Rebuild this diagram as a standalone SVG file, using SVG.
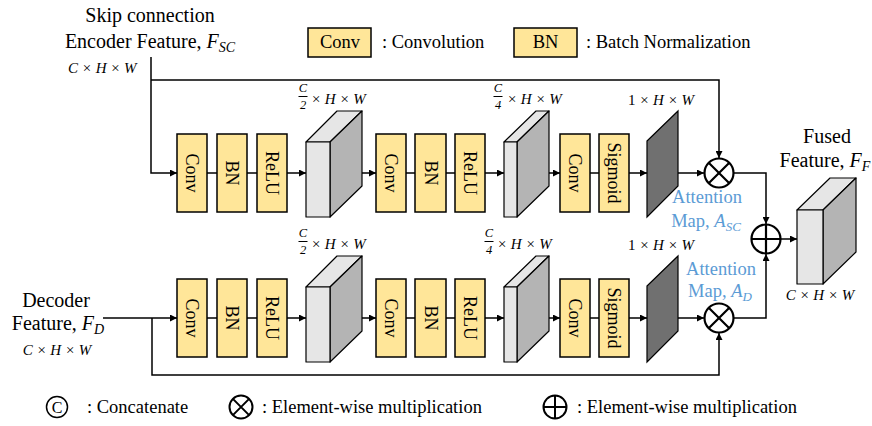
<svg xmlns="http://www.w3.org/2000/svg" width="872" height="426" viewBox="0 0 872 426">
  <style>
    .t { font-family: "Liberation Serif", "Tinos", "Times New Roman", "DejaVu Serif", serif; fill: #000; }
    .title { font-size: 20px; }
    .lbl { font-size: 18.5px; }
    .blue { fill: #5B9BD5; }
    .math { font-family: "Liberation Serif", "Tinos", "Times New Roman", "DejaVu Serif", serif; font-style: italic; font-size: 15px; fill: #000; }
    .frac { font-size: 12.5px; text-anchor: middle; }
    .it { font-style: italic; }
    .box { fill: #FFE699; stroke: #000; stroke-width: 1.5; }
    .boxt { font-family: "Liberation Serif", "Tinos", "Times New Roman", "DejaVu Serif", serif; font-size: 18px; text-anchor: middle; }
    .front { fill: #E6E6E6; stroke: #000; stroke-width: 1.2; stroke-linejoin: round; }
    .side { fill: #B4B4B4; stroke: #000; stroke-width: 1.2; stroke-linejoin: round; }
    .map { fill: #707070; stroke: #000; stroke-width: 1.2; }
    .wire { fill: none; stroke: #000; stroke-width: 1.5; }
    .arr { fill: none; stroke: #000; stroke-width: 1.5; marker-end: url(#ah); }
    .op { fill: #fff; stroke: #000; stroke-width: 2.2; }
    .opl { stroke: #000; stroke-width: 2.2; }
  </style>
  <defs>
    <marker id="ah" viewBox="0 0 10 10" refX="10" refY="5" markerWidth="7" markerHeight="7" markerUnits="userSpaceOnUse" orient="auto">
      <path d="M0,0 L10,5 L0,10 z" fill="#000"/>
    </marker>
    <g id="cube1">
      <polygon class="front" points="306,142 337,111 362,111 330,142"/>
      <polygon class="side" points="330,142 362,111 362,186 330,217"/>
      <rect class="front" x="306" y="142" width="24" height="75"/>
    </g>
    <g id="cube2">
      <polygon class="front" points="504,142 536,111 549,111 517,142"/>
      <polygon class="side" points="517,142 549,111 549,186 517,217"/>
      <rect class="front" x="504" y="142" width="13" height="75"/>
    </g>
  </defs>

  <rect width="872" height="426" fill="#fff"/>

  <!-- legend, top -->
  <g id="legend-top">
    <rect class="box" x="308" y="28" width="63" height="29"/>
    <text class="t lbl" x="340" y="48" text-anchor="middle">Conv</text>
    <text class="t lbl" x="382" y="48">: Convolution</text>
    <rect class="box" x="514" y="28" width="63" height="29"/>
    <text class="t lbl" x="545.5" y="48" text-anchor="middle">BN</text>
    <text class="t lbl" x="586" y="48">: Batch Normalization</text>
  </g>

  <!-- input labels -->
  <g id="enc-label">
    <text class="t title" x="150" y="22" text-anchor="middle">Skip connection</text>
    <text class="t title" x="150" y="48" text-anchor="middle">Encoder Feature, <tspan class="it">F</tspan><tspan class="it" font-size="14" dy="4">SC</tspan></text>
    <text class="math" x="68" y="73">C × H × W</text>
  </g>
  <g id="dec-label">
    <text class="t title" x="56" y="307" text-anchor="middle">Decoder</text>
    <text class="t title" x="58" y="330" text-anchor="middle">Feature, <tspan class="it">F</tspan><tspan class="it" font-size="14" dy="4">D</tspan></text>
    <text class="math" x="57" y="355" text-anchor="middle">C × H × W</text>
  </g>

  <!-- connectors -->
  <g id="connectors">
    <!-- encoder branch -->
    <path class="arr" d="M151,57 V173 H177"/>
    <path class="arr" d="M151,80 H719 V158"/>
    <path class="wire" d="M207,173 H217 M247,173 H257"/>
    <path class="arr" d="M287,173 H306"/>
    <path class="arr" d="M347,173 H376"/>
    <path class="wire" d="M406,173 H415 M446,173 H455"/>
    <path class="arr" d="M485,173 H504"/>
    <path class="arr" d="M537,173 H560"/>
    <path class="wire" d="M590,173 H599"/>
    <path class="arr" d="M629,173 H647"/>
    <path class="arr" d="M665,173 H704"/>
    <path class="arr" d="M734,173 H766 V224"/>
    <!-- decoder branch -->
    <path class="arr" d="M103,318 H177"/>
    <path class="arr" d="M152,318 V375 H719 V333"/>
    <path class="wire" d="M207,318 H217 M247,318 H257"/>
    <path class="arr" d="M287,318 H306"/>
    <path class="arr" d="M347,318 H376"/>
    <path class="wire" d="M406,318 H415 M446,318 H455"/>
    <path class="arr" d="M485,318 H504"/>
    <path class="arr" d="M537,318 H560"/>
    <path class="wire" d="M590,318 H599"/>
    <path class="arr" d="M629,318 H647"/>
    <path class="arr" d="M665,318 H704"/>
    <path class="arr" d="M734,318 H766 V254"/>
    <!-- fusion output -->
    <path class="arr" d="M781,239 H797"/>
  </g>

  <!-- encoder branch nodes -->
  <g id="enc-conv1"><rect class="box" x="177" y="134" width="30" height="78"/><text class="boxt" transform="rotate(90 192 173)" x="192" y="179">Conv</text></g>
  <g id="enc-bn1"><rect class="box" x="217" y="134" width="30" height="78"/><text class="boxt" transform="rotate(90 232 173)" x="232" y="179">BN</text></g>
  <g id="enc-relu1"><rect class="box" x="257" y="134" width="30" height="78"/><text class="boxt" transform="rotate(90 272 173)" x="272" y="179">ReLU</text></g>
  <g id="enc-feat1">
    <use href="#cube1"/>
    <text class="math frac" x="303" y="92">C</text>
    <line x1="298.5" y1="96.5" x2="307.5" y2="96.5" stroke="#000" stroke-width="1"/>
    <text class="math frac" x="303" y="108.5" font-style="normal">2</text>
    <text class="math" x="311" y="104">× H × W</text>
  </g>
  <g id="enc-conv2"><rect class="box" x="376" y="134" width="30" height="78"/><text class="boxt" transform="rotate(90 391 173)" x="391" y="179">Conv</text></g>
  <g id="enc-bn2"><rect class="box" x="415" y="134" width="31" height="78"/><text class="boxt" transform="rotate(90 430.5 173)" x="430.5" y="179">BN</text></g>
  <g id="enc-relu2"><rect class="box" x="455" y="134" width="30" height="78"/><text class="boxt" transform="rotate(90 470 173)" x="470" y="179">ReLU</text></g>
  <g id="enc-feat2">
    <use href="#cube2"/>
    <text class="math frac" x="498" y="92">C</text>
    <line x1="493.5" y1="96.5" x2="502.5" y2="96.5" stroke="#000" stroke-width="1"/>
    <text class="math frac" x="498" y="108.5" font-style="normal">4</text>
    <text class="math" x="507" y="104">× H × W</text>
  </g>
  <g id="enc-conv3"><rect class="box" x="560" y="134" width="30" height="78"/><text class="boxt" transform="rotate(90 575 173)" x="575" y="179">Conv</text></g>
  <g id="enc-sigmoid"><rect class="box" x="599" y="134" width="30" height="78"/><text class="boxt" transform="rotate(90 614 173)" x="614" y="179">Sigmoid</text></g>
  <g id="enc-attn">
    <polygon class="map" points="647,141 678,111 678,186 647,217"/>
    <text class="math" x="628" y="105"><tspan font-style="normal">1</tspan> × H × W</text>
    <text class="t lbl blue" x="707" y="203" text-anchor="middle">Attention</text>
    <text class="t lbl blue" x="706" y="227" text-anchor="middle">Map, <tspan class="it">A</tspan><tspan class="it" font-size="13" dy="4">SC</tspan></text>
  </g>
  <g id="enc-mul">
    <circle class="op" cx="719" cy="173" r="14.5"/>
    <path class="opl" d="M708.7,162.7 L729.3,183.3 M729.3,162.7 L708.7,183.3"/>
  </g>

  <!-- decoder branch nodes -->
  <g id="dec-conv1"><rect class="box" x="177" y="279" width="30" height="78"/><text class="boxt" transform="rotate(90 192 318)" x="192" y="324">Conv</text></g>
  <g id="dec-bn1"><rect class="box" x="217" y="279" width="30" height="78"/><text class="boxt" transform="rotate(90 232 318)" x="232" y="324">BN</text></g>
  <g id="dec-relu1"><rect class="box" x="257" y="279" width="30" height="78"/><text class="boxt" transform="rotate(90 272 318)" x="272" y="324">ReLU</text></g>
  <g id="dec-feat1">
    <use href="#cube1" y="145"/>
    <text class="math frac" x="303" y="237">C</text>
    <line x1="298.5" y1="241.5" x2="307.5" y2="241.5" stroke="#000" stroke-width="1"/>
    <text class="math frac" x="303" y="253.5" font-style="normal">2</text>
    <text class="math" x="311" y="249">× H × W</text>
  </g>
  <g id="dec-conv2"><rect class="box" x="376" y="279" width="30" height="78"/><text class="boxt" transform="rotate(90 391 318)" x="391" y="324">Conv</text></g>
  <g id="dec-bn2"><rect class="box" x="415" y="279" width="31" height="78"/><text class="boxt" transform="rotate(90 430.5 318)" x="430.5" y="324">BN</text></g>
  <g id="dec-relu2"><rect class="box" x="455" y="279" width="30" height="78"/><text class="boxt" transform="rotate(90 470 318)" x="470" y="324">ReLU</text></g>
  <g id="dec-feat2">
    <use href="#cube2" y="145"/>
    <text class="math frac" x="489" y="237">C</text>
    <line x1="484.5" y1="241.5" x2="493.5" y2="241.5" stroke="#000" stroke-width="1"/>
    <text class="math frac" x="489" y="253.5" font-style="normal">4</text>
    <text class="math" x="497" y="249">× H × W</text>
  </g>
  <g id="dec-conv3"><rect class="box" x="560" y="279" width="30" height="78"/><text class="boxt" transform="rotate(90 575 318)" x="575" y="324">Conv</text></g>
  <g id="dec-sigmoid"><rect class="box" x="599" y="279" width="30" height="78"/><text class="boxt" transform="rotate(90 614 318)" x="614" y="324">Sigmoid</text></g>
  <g id="dec-attn">
    <polygon class="map" points="647,286 678,256 678,331 647,362"/>
    <text class="math" x="628" y="250"><tspan font-style="normal">1</tspan> × H × W</text>
    <text class="t lbl blue" x="721" y="275" text-anchor="middle">Attention</text>
    <text class="t lbl blue" x="720" y="297" text-anchor="middle">Map, <tspan class="it">A</tspan><tspan class="it" font-size="13" dy="4">D</tspan></text>
  </g>
  <g id="dec-mul">
    <circle class="op" cx="719" cy="318" r="14.5"/>
    <path class="opl" d="M708.7,307.7 L729.3,328.3 M729.3,307.7 L708.7,328.3"/>
  </g>

  <!-- fusion -->
  <g id="add">
    <circle class="op" cx="766" cy="239" r="14.5"/>
    <path class="opl" d="M751.5,239 H780.5 M766,224.5 V253.5"/>
  </g>
  <g id="fused">
    <polygon class="front" points="797,210 830,178 856,178 823,210"/>
    <polygon class="side" points="823,210 856,178 856,252 823,284"/>
    <rect class="front" x="797" y="210" width="26" height="74"/>
    <text class="t title" x="827" y="143" text-anchor="middle">Fused</text>
    <text class="t title" x="825" y="167" text-anchor="middle">Feature, <tspan class="it">F</tspan><tspan class="it" font-size="14" dy="4">F</tspan></text>
    <text class="math" x="820" y="300" text-anchor="middle">C × H × W</text>
  </g>

  <!-- legend, bottom -->
  <g id="legend-bottom">
    <circle cx="57" cy="407" r="10.5" fill="none" stroke="#000" stroke-width="1.5"/>
    <text class="t" x="57" y="413" font-size="16" text-anchor="middle">C</text>
    <text class="t lbl" x="87" y="413">: Concatenate</text>
    <circle cx="241" cy="407" r="11.5" fill="none" stroke="#000" stroke-width="2"/>
    <path d="M232.9,398.9 L249.1,415.1 M249.1,398.9 L232.9,415.1" stroke="#000" stroke-width="2"/>
    <text class="t lbl" x="262" y="413">: Element-wise multiplication</text>
    <circle cx="555" cy="407" r="11.5" fill="none" stroke="#000" stroke-width="2"/>
    <path d="M543.5,407 H566.5 M555,395.5 V418.5" stroke="#000" stroke-width="2"/>
    <text class="t lbl" x="577" y="413">: Element-wise multiplication</text>
  </g>
</svg>
